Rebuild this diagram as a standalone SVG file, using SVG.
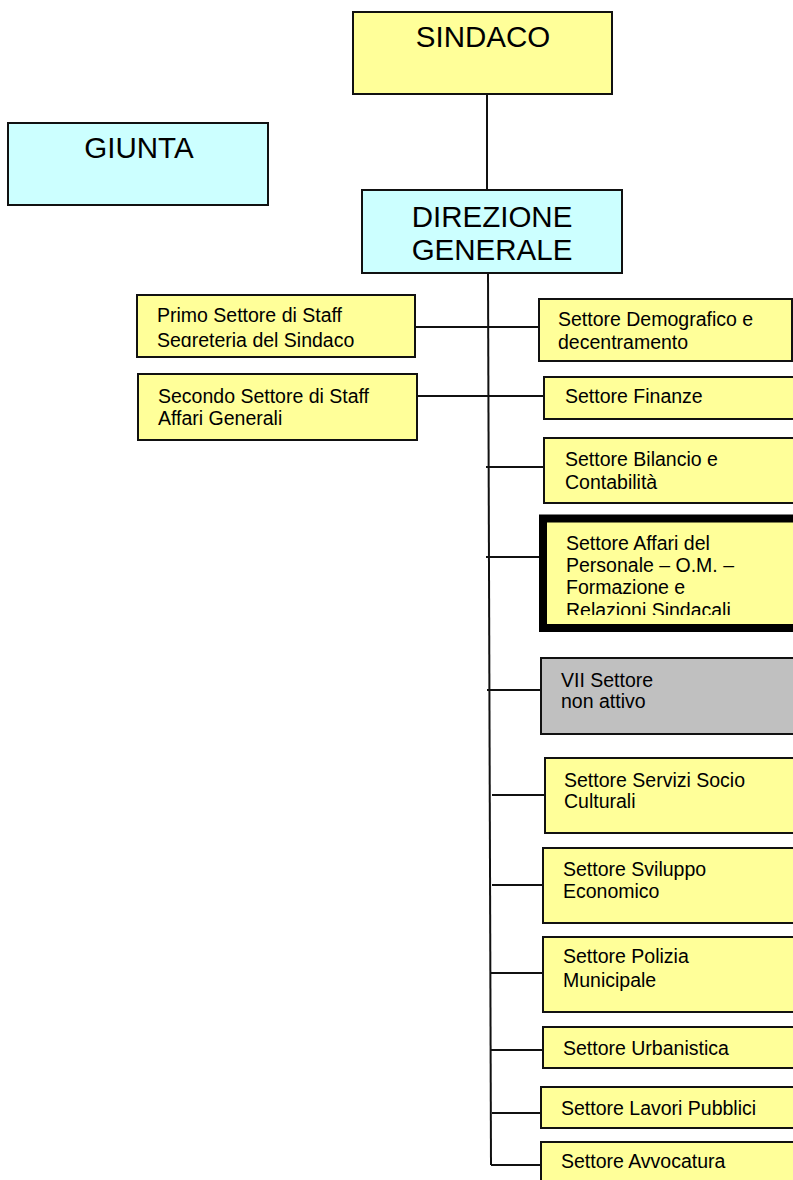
<svg xmlns="http://www.w3.org/2000/svg" width="793" height="1180" viewBox="0 0 793 1180">
<style>
.box{stroke:#111;stroke-width:2}
.y{fill:#ffff99}
.c{fill:#ccffff}
.g{fill:#c0c0c0}
.big{font-family:"Liberation Sans",Arial,sans-serif;font-size:29.5px;fill:#000;text-anchor:middle}
.sm{font-family:"Liberation Sans",Arial,sans-serif;font-size:19.5px;fill:#000}
.ln{stroke:#111;stroke-width:2;fill:none}
</style>
<defs>
<clipPath id="clipPrimo"><rect x="137" y="295" width="280" height="52"/></clipPath>
<clipPath id="clipPers"><rect x="547" y="522" width="246" height="93"/></clipPath>
</defs>
<rect width="793" height="1180" fill="#fff"/>
<g id="connectors">
<line class="ln" x1="487" y1="94" x2="487" y2="190"/>
<line class="ln" x1="488" y1="273" x2="491" y2="1165"/>
<line class="ln" x1="412" y1="327" x2="539" y2="327"/>
<line class="ln" x1="415" y1="396" x2="544" y2="396"/>
<line class="ln" x1="486" y1="467" x2="544" y2="467"/>
<line class="ln" x1="486" y1="557" x2="539" y2="557"/>
<line class="ln" x1="487" y1="690" x2="541" y2="690"/>
<line class="ln" x1="492" y1="795" x2="545" y2="795"/>
<line class="ln" x1="492" y1="885" x2="543" y2="885"/>
<line class="ln" x1="490" y1="973" x2="545" y2="973"/>
<line class="ln" x1="491" y1="1050" x2="543" y2="1050"/>
<line class="ln" x1="492" y1="1113" x2="541" y2="1113"/>
<line class="ln" x1="491" y1="1165" x2="541" y2="1165"/>
</g>
<g id="sindaco">
<rect class="box y" x="353" y="12" width="259" height="82"/>
<text class="big" x="483" y="47">SINDACO</text>
</g>
<g id="giunta">
<rect class="box c" x="8" y="123" width="260" height="82"/>
<text class="big" x="139" y="158">GIUNTA</text>
</g>
<g id="direzione">
<rect class="box c" x="362" y="190" width="260" height="83"/>
<text class="big" x="492" y="227">DIREZIONE</text>
<text class="big" x="492" y="260">GENERALE</text>
</g>
<g id="primo">
<rect class="box y" x="137" y="295" width="278" height="62"/>
<g clip-path="url(#clipPrimo)">
<text class="sm" x="157" y="322">Primo Settore di Staff</text>
<text class="sm" x="157" y="347">Segreteria del Sindaco</text>
</g>
</g>
<g id="secondo">
<rect class="box y" x="138" y="374" width="279" height="66"/>
<text class="sm" x="158" y="403">Secondo Settore di Staff</text>
<text class="sm" x="158" y="425">Affari Generali</text>
</g>
<g id="demografico">
<rect class="box y" x="539" y="299" width="253" height="62"/>
<text class="sm" x="558" y="326">Settore Demografico e</text>
<text class="sm" x="558" y="349">decentramento</text>
</g>
<g id="finanze">
<rect class="box y" x="544" y="377" width="260" height="42"/>
<text class="sm" x="565" y="403">Settore Finanze</text>
</g>
<g id="bilancio">
<rect class="box y" x="544" y="438" width="260" height="65"/>
<text class="sm" x="565" y="466">Settore Bilancio e</text>
<text class="sm" x="565" y="489">Contabilità</text>
</g>
<g id="personale">
<rect x="543" y="518.5" width="260" height="109.5" fill="#ffff99" stroke="#000" stroke-width="8"/>
<g clip-path="url(#clipPers)">
<text class="sm" x="566" y="550">Settore Affari del</text>
<text class="sm" x="566" y="572">Personale – O.M. –</text>
<text class="sm" x="566" y="594">Formazione e</text>
<text class="sm" x="566" y="616.5">Relazioni Sindacali</text>
</g>
</g>
<g id="settimo">
<rect class="box g" x="541" y="658" width="262" height="76"/>
<text class="sm" x="561" y="687">VII Settore</text>
<text class="sm" x="561" y="708">non attivo</text>
</g>
<g id="servizi">
<rect class="box y" x="545" y="758" width="258" height="75"/>
<text class="sm" x="564" y="787">Settore Servizi Socio</text>
<text class="sm" x="564" y="808">Culturali</text>
</g>
<g id="sviluppo">
<rect class="box y" x="543" y="848" width="260" height="75"/>
<text class="sm" x="563" y="876">Settore Sviluppo</text>
<text class="sm" x="563" y="898">Economico</text>
</g>
<g id="polizia">
<rect class="box y" x="543" y="937" width="260" height="75"/>
<text class="sm" x="563" y="963">Settore Polizia</text>
<text class="sm" x="563" y="987">Municipale</text>
</g>
<g id="urbanistica">
<rect class="box y" x="543" y="1027" width="260" height="41"/>
<text class="sm" x="563" y="1055">Settore Urbanistica</text>
</g>
<g id="lavori">
<rect class="box y" x="541" y="1087" width="262" height="41"/>
<text class="sm" x="561" y="1115">Settore Lavori Pubblici</text>
</g>
<g id="avvocatura">
<rect class="box y" x="541" y="1142" width="262" height="50"/>
<text class="sm" x="561" y="1168">Settore Avvocatura</text>
</g>
</svg>
